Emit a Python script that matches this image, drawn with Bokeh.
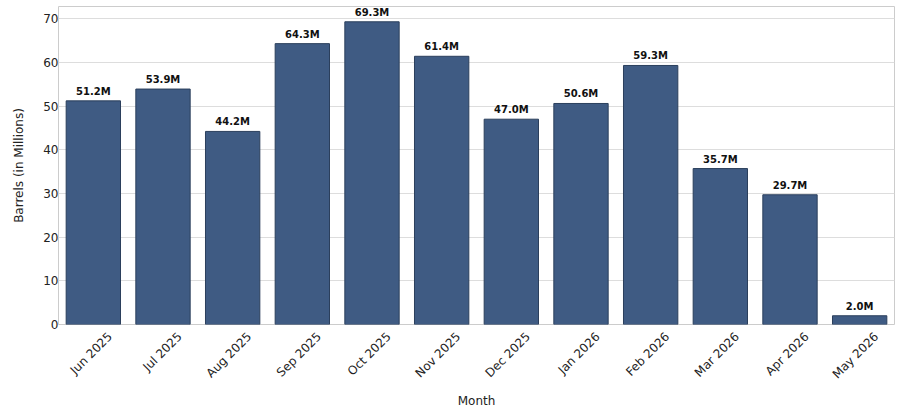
from math import pi
from bokeh.plotting import figure
from bokeh.models import ColumnDataSource, Range1d, LinearAxis, FixedTicker
from bokeh.core.properties import value
from bokeh.embed import file_html
from bokeh.resources import INLINE

months = ["Jun 2025", "Jul 2025", "Aug 2025", "Sep 2025", "Oct 2025", "Nov 2025",
          "Dec 2025", "Jan 2026", "Feb 2026", "Mar 2026", "Apr 2026", "May 2026"]
barrels = [51.2, 53.9, 44.2, 64.3, 69.3, 61.4, 47.0, 50.6, 59.3, 35.7, 29.7, 2.0]
labels = ["%.1fM" % v for v in barrels]
y_ticks = [0, 10, 20, 30, 40, 50, 60, 70]

idx = list(range(len(months)))
source = ColumnDataSource(data=dict(i=idx, month=months, barrels=barrels, label=labels))

p = figure(x_range=Range1d(-0.5, len(months) - 0.5), y_range=Range1d(0, 72.8),
           frame_width=836, frame_height=318, output_backend="svg", toolbar_location=None, tools="",
           x_axis_location=None, y_axis_label="Barrels (in Millions)",
           min_border_top=6, min_border_right=2, min_border_left=58, min_border_bottom=0)

p.vbar(x="i", top="barrels", width=0.78, source=source,
       fill_color="#3f5b83", line_color="#2b3f5c", line_width=1)

p.text(x="i", y="barrels", text="label", source=source,
       text_align="center", text_baseline="bottom", y_offset=-4,
       text_font=value("DejaVu Sans"), text_font_style="bold",
       text_font_size="10px", text_color="#111111")

# month axis on a slightly shifted scale, so the rotated names sit centred under the bars
shift = 0.24
p.extra_x_ranges = {"names": Range1d(-0.5 - shift, len(months) - 0.5 - shift)}
xaxis = LinearAxis(x_range_name="names", axis_label="Month",
                   ticker=FixedTicker(ticks=idx),
                   major_label_overrides={i: m for i, m in zip(idx, months)})
p.add_layout(xaxis, "below")

p.outline_line_color = "#cccccc"
p.xgrid.grid_line_color = None
p.ygrid.grid_line_color = "#dddddd"
p.ygrid.ticker = y_ticks
p.yaxis.ticker = y_ticks

for ax in (xaxis, p.yaxis[0]):
    ax.axis_line_color = None
    ax.major_tick_line_color = None
    ax.minor_tick_line_color = None
    ax.major_tick_out = 0
    ax.major_tick_in = 0
    ax.minor_tick_out = 0
    ax.minor_tick_in = 0
    ax.major_label_text_font = "DejaVu Sans"
    ax.major_label_text_font_size = "12px"
    ax.major_label_text_color = "#222222"
    ax.axis_label_text_font = "DejaVu Sans"
    ax.axis_label_text_font_size = "12px"
    ax.axis_label_text_font_style = "normal"
    ax.axis_label_text_color = "#222222"

xaxis.major_label_orientation = pi / 4
xaxis.major_label_standoff = 10
xaxis.axis_label_standoff = 5
p.yaxis.major_label_standoff = 0
p.yaxis.axis_label_standoff = 14

open("out.html", "w").write(file_html(p, INLINE))
